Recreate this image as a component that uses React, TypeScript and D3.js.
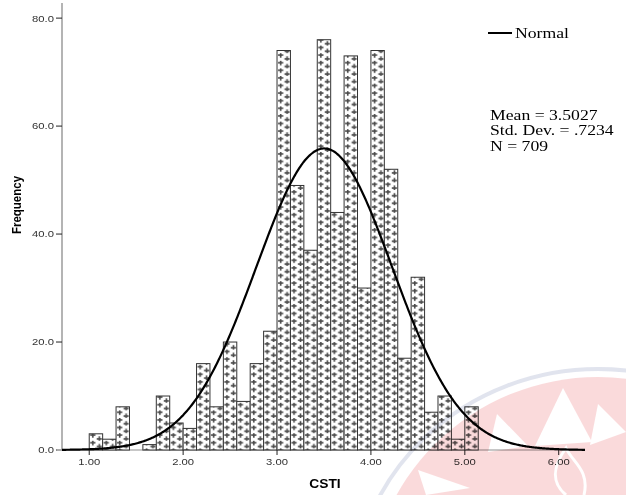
import React from 'react';
import * as d3 from 'd3';

// ---- data ----
const binStart = 1.0;
const binWidth = 1 / 7;
const counts = [3, 2, 8, 0, 1, 10, 5, 4, 16, 8, 20, 9, 16, 22, 74, 49, 37, 76, 44, 73, 30, 74, 52, 17, 32, 7, 10, 2, 8];
const xTicks = [1, 2, 3, 4, 5, 6];
const yTicks = [0, 20, 40, 60, 80];
const mean = 3.5027;
const sd = 0.7234;
const total = 709;
const statsLines = ['Mean = 3.5027', 'Std. Dev. = .7234', 'N = 709'];
const legendLabel = 'Normal';
const xTitle = 'CSTI';
const yTitle = 'Frequency';

const W = 626;
const H = 495;

export default function App() {
  const x = d3.scaleLinear().domain([0.71, 6.28]).range([62, 585]);
  const y = d3.scaleLinear().domain([0, 82.8]).range([450, 3]);
  const bw = x(binStart + binWidth) - x(binStart);

  const bins = counts.map((c, i) => ({ x0: binStart + i * binWidth, x1: binStart + (i + 1) * binWidth, c }));

  const dens = (v: number) => (total * binWidth) / (sd * Math.sqrt(2 * Math.PI)) * Math.exp(-0.5 * ((v - mean) / sd) ** 2);
  const [d0, d1] = x.domain();
  const pts = d3.range(d0, d1 + 0.0001, 0.01).map((v) => [v, dens(v)] as [number, number]);
  const line = d3.line<[number, number]>().x((d) => x(d[0])).y((d) => y(d[1])).curve(d3.curveBasis);

  const tickFont = "'Liberation Sans', Arial, sans-serif";
  const serif = "'Liberation Serif', 'Times New Roman', serif";
  const SX = 1.15;

  const plus = (cx: number, cy: number, k: number) => (
    <g key={k} fill="#4a4a4a">
      <rect x={cx - 2.6} y={cy - 0.8} width={5.2} height={1.6} />
      <rect x={cx - 0.8} y={cy - 2.6} width={1.6} height={5.2} />
    </g>
  );

  return (
    <svg width={W} height={H} style={{ position: 'absolute', left: 0, top: 0, background: '#fff' }}>
      <defs>
        <pattern id="pl" patternUnits="userSpaceOnUse" x={x(binStart)} y={0} width={bw} height={7.6}>
          <rect width={bw} height={7.6} fill="#fff" />
          {plus(bw * 0.27, 1.9, 1)}
          {plus(bw * 0.75, 5.7, 2)}
        </pattern>
        <mask id="wm">
          <rect width={W} height={H} fill="#fff" />
          <polygon points="563,388 535,446 592,442" fill="#000" />
          <polygon points="497,414 488,452 528,446" fill="#000" />
          <polygon points="598,404 590,445 626,432" fill="#000" />
          <polygon points="418,470 470,488 426,495" fill="#000" />
          <path d="M566,495 C548,480 556,462 566,448 C572,462 590,470 584,495" fill="none" stroke="#000" strokeWidth={3} />
        </mask>
      </defs>
      <rect width={W} height={H} fill="#fff" />

      {/* y axis */}
      <line x1={62} x2={62} y1={y(82.8)} y2={y(0)} stroke="#b4b4b4" strokeWidth={2} />
      {yTicks.map((t) => (
        <g key={t}>
          <line x1={56} x2={62} y1={y(t)} y2={y(t)} stroke="#222" strokeWidth={1} />
          <text
            transform={`translate(54,${y(t) + 3.4}) scale(${SX},1)`}
            textAnchor="end"
            fontFamily={tickFont}
            fontSize={9.8}
            fill="#333"
          >
            {d3.format('.1f')(t)}
          </text>
        </g>
      ))}
      {/* x axis */}
      <line x1={57} x2={x(6.28)} y1={y(0)} y2={y(0)} stroke="#b4b4b4" strokeWidth={1.5} />
      {xTicks.map((t) => (
        <g key={t}>
          <line x1={x(t)} x2={x(t)} y1={y(0)} y2={y(0) + 5} stroke="#222" strokeWidth={1} />
          <text
            transform={`translate(${x(t)},${y(0) + 15}) scale(${SX},1)`}
            textAnchor="middle"
            fontFamily={tickFont}
            fontSize={9.8}
            fill="#333"
          >
            {d3.format('.2f')(t)}
          </text>
        </g>
      ))}

      {/* bars */}
      {bins.map((b, i) =>
        b.c > 0 ? (
          <rect
            key={i}
            x={x(b.x0)}
            y={y(b.c)}
            width={x(b.x1) - x(b.x0)}
            height={y(0) - y(b.c)}
            fill="url(#pl)"
            stroke="#333"
            strokeWidth={1}
          />
        ) : null
      )}

      {/* normal curve */}
      <path d={line(pts) || ''} fill="none" stroke="#000" strokeWidth={2.2} />

      {/* titles */}
      <text
        transform={`translate(325,488) scale(${SX},1)`}
        textAnchor="middle"
        fontFamily={tickFont}
        fontWeight="bold"
        fontSize={12}
        fill="#000"
      >
        {xTitle}
      </text>
      <text
        transform={`translate(21,205) scale(${SX},1) rotate(-90)`}
        textAnchor="middle"
        fontFamily={tickFont}
        fontWeight="bold"
        fontSize={11.5}
        fill="#000"
      >
        {yTitle}
      </text>

      {/* legend */}
      <line x1={488} x2={512} y1={33} y2={33} stroke="#000" strokeWidth={2} />
      <text transform={`translate(515,38) scale(1.22,1)`} fontFamily={serif} fontSize={14.5} fill="#000">
        {legendLabel}
      </text>
      {statsLines.map((s, i) => (
        <text
          key={s}
          transform={`translate(490,${120 + i * 15.3}) scale(1.22,1)`}
          fontFamily={serif}
          fontSize={14.5}
          fill="#000"
        >
          {s}
        </text>
      ))}

      {/* watermark */}
      <g style={{ mixBlendMode: 'multiply' }} mask="url(#wm)">
        <ellipse cx={598} cy={605} rx={230} ry={228} fill="#e8474c" opacity={0.2} />
        <ellipse cx={598} cy={605} rx={246} ry={236} fill="none" stroke="#c3c9dd" strokeWidth={4} opacity={0.5} />
      </g>
    </svg>
  );
}
